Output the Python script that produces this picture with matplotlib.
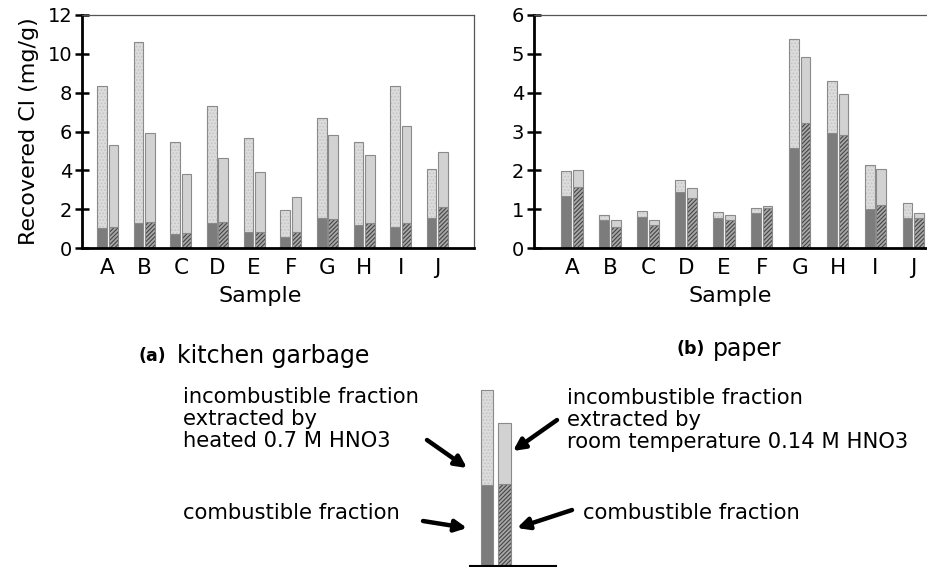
import numpy as np
import matplotlib
matplotlib.use("Agg")
import matplotlib.pyplot as plt

plt.rcParams['font.family'] = ['DejaVu Sans']
plt.rcParams['hatch.linewidth'] = 0.8

samples = ['A', 'B', 'C', 'D', 'E', 'F', 'G', 'H', 'I', 'J']

# (a) kitchen garbage: totals and combustible part, heated 0.7 M / room temp 0.14 M
kg_total_heated = [8.33, 10.59, 5.46, 7.30, 5.67, 1.96, 6.68, 5.44, 8.36, 4.07]
kg_comb_heated = [1.05, 1.29, 0.70, 1.27, 0.81, 0.58, 1.56, 1.17, 1.08, 1.53]
kg_total_room = [5.29, 5.91, 3.81, 4.64, 3.93, 2.63, 5.80, 4.79, 6.27, 4.94]
kg_comb_room = [1.06, 1.34, 0.79, 1.36, 0.84, 0.82, 1.48, 1.27, 1.29, 2.13]

# (b) paper
pp_total_heated = [1.99, 0.86, 0.94, 1.74, 0.93, 1.03, 5.38, 4.29, 2.13, 1.16]
pp_comb_heated = [1.34, 0.72, 0.79, 1.43, 0.78, 0.89, 2.58, 2.95, 1.01, 0.76]
pp_total_room = [2.00, 0.71, 0.71, 1.54, 0.85, 1.09, 4.93, 3.97, 2.03, 0.90]
pp_comb_room = [1.57, 0.55, 0.58, 1.29, 0.73, 1.02, 3.21, 2.91, 1.11, 0.76]

# schematic legend bars (pixel units of the figure)
legend_top = [390, 423]
legend_split = [485, 484]

c_dark = '#7c7c7c'
c_light1 = '#dcdcdc'
c_light2 = '#d2d2d2'
c_edge = '#8a8a8a'
c_hatch_bg = '#a8a8a8'
c_hatch = '#444444'


def hatched_bar(ax, x, h, w, bottom=0):
    ax.bar(x, h, w, bottom=bottom, color=c_hatch_bg, edgecolor=c_hatch, hatch='////////', linewidth=0)
    ax.bar(x, h, w, bottom=bottom, fill=False, edgecolor=c_edge, linewidth=0.8)


def dotted_bar(ax, x, h, w, bottom=0):
    ax.bar(x, h, w, bottom=bottom, color=c_light1, edgecolor='#c4c4c4', hatch='.....', linewidth=0)
    ax.bar(x, h, w, bottom=bottom, fill=False, edgecolor=c_edge, linewidth=0.8)


def panel(ax, tot_h, comb_h, tot_r, comb_r, ymax, step, xl):
    x = np.arange(len(samples))
    w = 0.26
    off = 0.155
    tot_h = np.array(tot_h); comb_h = np.array(comb_h)
    tot_r = np.array(tot_r); comb_r = np.array(comb_r)
    for i in x:
        ax.bar(i - off, comb_h[i], w, color=c_dark, edgecolor=c_edge, linewidth=0.8)
        dotted_bar(ax, i - off, tot_h[i] - comb_h[i], w, bottom=comb_h[i])
        hatched_bar(ax, i + off, comb_r[i], w)
        ax.bar(i + off, tot_r[i] - comb_r[i], w, bottom=comb_r[i], color=c_light2,
               edgecolor=c_edge, linewidth=0.8)
    ax.set_xlim(*xl)
    ax.set_ylim(0, ymax)
    ax.set_yticks(np.arange(0, ymax + 0.01, step))
    ax.set_xticks(x)
    ax.set_xticklabels(samples)
    ax.tick_params(axis='x', length=0, labelsize=15.5, pad=7)
    ax.tick_params(axis='y', direction='inout', length=10, width=1.8, labelsize=14, pad=2)
    ax.spines['left'].set_linewidth(2)
    ax.spines['bottom'].set_linewidth(2)
    ax.spines['top'].set_linewidth(0.9)
    ax.spines['top'].set_color('#555555')
    ax.spines['right'].set_linewidth(0.9)
    ax.spines['right'].set_color('#555555')
    ax.set_xlabel('Sample', fontsize=16)


fig = plt.figure(figsize=(9.27, 5.67), dpi=100)

ax1 = fig.add_axes([82 / 927, 1 - 248 / 567, (474 - 82) / 927, 233 / 567])
panel(ax1, kg_total_heated, kg_comb_heated, kg_total_room, kg_comb_room, 12, 2, (-0.70, 10.0))
ax1.set_ylabel('Recovered Cl (mg/g)', fontsize=16, labelpad=6)
ax1.xaxis.set_label_coords((260 - 82) / 392, (248 - 286) / 233)

ax2 = fig.add_axes([534 / 927, 1 - 248 / 567, (940 - 534) / 927, 233 / 567])
panel(ax2, pp_total_heated, pp_comb_heated, pp_total_room, pp_comb_room, 6, 1, (-1.0, 9.7))
ax2.spines['right'].set_visible(False)
ax2.xaxis.set_label_coords((730 - 534) / 406, (248 - 286) / 233)

# overlay for captions and schematic legend, in pixel coordinates
lg = fig.add_axes([0, 0, 1, 1], zorder=-1)
lg.set_xlim(0, 927)
lg.set_ylim(567, 0)
lg.axis('off')

lg.text(139, 356, '(a)', fontsize=12.5, fontweight='bold', va='center')
lg.text(177, 356, 'kitchen garbage', fontsize=17, va='center')
lg.text(677, 349, '(b)', fontsize=12.5, fontweight='bold', va='center')
lg.text(713, 349, 'paper', fontsize=17, va='center')

xs = [487, 504.5]
ws = [12, 13]
lg.bar(xs[0], 567 - legend_split[0], ws[0], bottom=legend_split[0], color=c_dark, edgecolor=c_edge, linewidth=0.8)
dotted_bar(lg, xs[0], legend_split[0] - legend_top[0], ws[0], bottom=legend_top[0])
hatched_bar(lg, xs[1], 567 - legend_split[1], ws[1], bottom=legend_split[1])
lg.bar(xs[1], legend_split[1] - legend_top[1], ws[1], bottom=legend_top[1], color=c_light2,
       edgecolor=c_edge, linewidth=0.8)
lg.plot([470, 556], [565.5, 565.5], color='black', lw=1.5)

tkw = dict(fontsize=15.2, va='center', linespacing=1.12)
lg.text(183, 419, 'incombustible fraction\nextracted by\nheated 0.7 M HNO3', **tkw)
lg.text(183, 513, 'combustible fraction', **tkw)
lg.text(567, 420, 'incombustible fraction\nextracted by\nroom temperature 0.14 M HNO3', **tkw)
lg.text(583, 513, 'combustible fraction', **tkw)

akw = dict(arrowstyle='-|>,head_length=0.7,head_width=0.35', color='black', lw=3.2,
           shrinkA=0, shrinkB=0)
lg.annotate('', xy=(467, 468), xytext=(427, 440), arrowprops=akw)
lg.annotate('', xy=(467, 528), xytext=(423, 521), arrowprops=akw)
lg.annotate('', xy=(513, 451), xytext=(557, 420), arrowprops=akw)
lg.annotate('', xy=(517, 528), xytext=(572, 510), arrowprops=akw)

fig.savefig('out.png', dpi=100)
